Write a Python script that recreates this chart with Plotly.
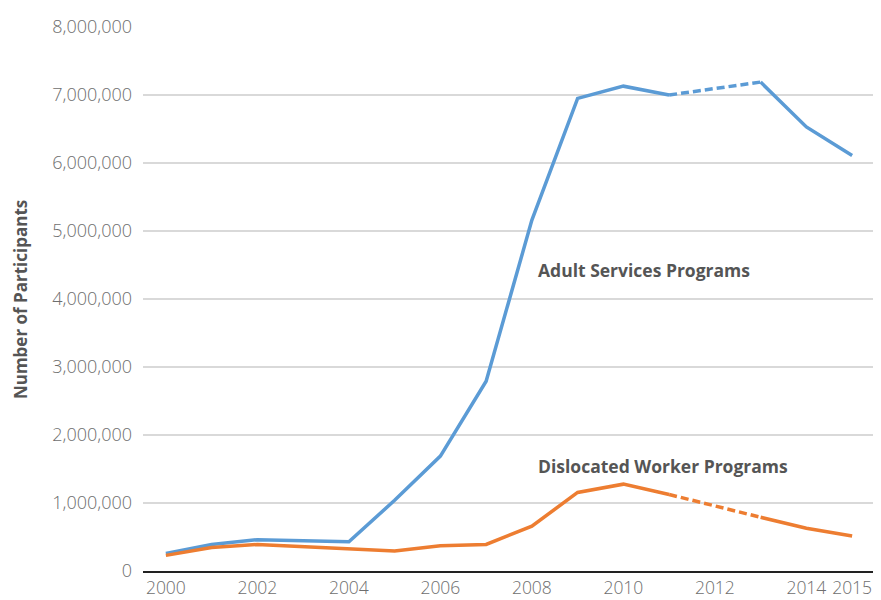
import plotly.graph_objects as go

years = [2000, 2001, 2002, 2004, 2005, 2006, 2007, 2008, 2009, 2010, 2011, 2013, 2014, 2015]
adult = [256000, 390000, 460000, 430000, 1040000, 1690000, 2790000, 5160000, 6950000, 7130000, 7000000, 7190000, 6530000, 6110000]
dislocated = [230000, 345000, 390000, 320000, 295000, 370000, 390000, 660000, 1155000, 1277000, 1125000, 790000, 630000, 515000]
x_tick_years = [2000, 2002, 2004, 2006, 2008, 2010, 2012, 2014, 2015]
y_ticks = [0, 1000000, 2000000, 3000000, 4000000, 5000000, 6000000, 7000000, 8000000]
y_tick_text = ["0", "1,000,000", "2,000,000", "3,000,000", "4,000,000", "5,000,000", "6,000,000", "7,000,000", "8,000,000"]

BLUE = "#5B9BD5"
ORANGE = "#ED7D31"
TEXT = "#555555"
TICK = "#6E6E6E"
FONT = "Open Sans, Lato, sans-serif"

fig = go.Figure()

def add_series(vals, color):
    i11 = years.index(2011)
    i13 = years.index(2013)
    segs = [(0, i11 + 1, "solid"), (i11, i13 + 1, "8px,4px"), (i13, len(years), "solid")]
    for a, b, d in segs:
        fig.add_trace(go.Scatter(x=years[a:b], y=vals[a:b], mode="lines",
                                 line=dict(color=color, width=3.5, dash=d),
                                 hoverinfo="x+y", showlegend=False))

add_series(adult, BLUE)
add_series(dislocated, ORANGE)

# page body has an 8px margin: the figure is sized to fit inside the window
fig.update_layout(
    width=873, height=592,
    margin=dict(l=135, r=6, t=19, b=29),
    plot_bgcolor="white", paper_bgcolor="white",
    font=dict(family=FONT, size=18, color=TICK, weight=300),
    showlegend=False,
    xaxis=dict(range=[1999.5, 2015.5], tickvals=x_tick_years,
               ticktext=[str(v) for v in x_tick_years],
               showgrid=False, zeroline=False, showline=True,
               linecolor="#222222", linewidth=1.5, ticks="",
               automargin=False, ticklabelstandoff=0,
               tickfont=dict(family=FONT, size=17.5, color=TICK, weight=300)),
    yaxis=dict(range=[0, 8000000], tickvals=y_ticks, ticktext=y_tick_text,
               showgrid=True, gridcolor="#D9D9D9", gridwidth=1.5,
               zeroline=False, showline=False, ticks="",
               automargin=False, ticklabelstandoff=10,
               tickfont=dict(family=FONT, size=18, color=TICK, weight=300)),
    annotations=[
        dict(text="Adult Services Programs", x=2008.08, y=4420000,
             xref="x", yref="y", xanchor="left", yanchor="middle",
             showarrow=False, font=dict(size=17.5, color=TEXT, family=FONT, weight=700)),
        dict(text="Dislocated Worker Programs", x=2008.08, y=1540000,
             xref="x", yref="y", xanchor="left", yanchor="middle",
             showarrow=False, font=dict(size=17.5, color=TEXT, family=FONT, weight=700)),
        dict(text="Number of Participants", x=-0.168, y=0.498,
             xref="paper", yref="paper", xanchor="center", yanchor="middle",
             textangle=-90, showarrow=False,
             font=dict(size=17, color=TEXT, family=FONT, weight=700)),
    ],
)

fig.write_html("out.html")
